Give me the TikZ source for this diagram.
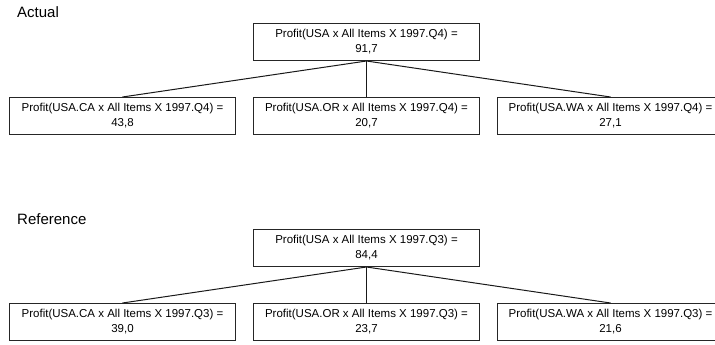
\documentclass[tikz,border=0pt]{standalone}
\usepackage{fontspec}
\setmainfont{Liberation Sans}
\begin{document}
\begin{tikzpicture}[x=1pt,y=-1pt,
  cell/.style={draw=black!85, line width=1pt, minimum width=226pt, minimum height=37pt,
    inner sep=0pt, align=center, font=\fontsize{11.5}{15}\selectfont, anchor=north west},
  link/.style={line width=1pt, draw=black!90},
  title/.style={anchor=base west, inner sep=0pt, font=\fontsize{15}{18}\selectfont}]
\useasboundingbox (0,0) rectangle (715,345);
\clip (0,0) rectangle (715,345);
% Actual
\node[title] (la) at (17,18) {Actual};
\node[cell] (a0) at (253,23) {Profit(USA x All Items X 1997.Q4) =\\91,7};
\node[cell] (a1) at (9,97) {Profit(USA.CA x All Items X 1997.Q4) =\\43,8};
\node[cell] (a2) at (253,97) {Profit(USA.OR x All Items X 1997.Q4) =\\20,7};
\node[cell] (a3) at (497,97) {Profit(USA.WA x All Items X 1997.Q4) =\\27,1};
\draw[link] (a0.south) -- (a1.north);
\draw[link] (a0.south) -- (a2.north);
\draw[link] (a0.south) -- (a3.north);
% Reference
\node[title] (lr) at (17,224) {Reference};
\node[cell] (r0) at (253,229) {Profit(USA x All Items X 1997.Q3) =\\84,4};
\node[cell] (r1) at (9,303) {Profit(USA.CA x All Items X 1997.Q3) =\\39,0};
\node[cell] (r2) at (253,303) {Profit(USA.OR x All Items X 1997.Q3) =\\23,7};
\node[cell] (r3) at (497,303) {Profit(USA.WA x All Items X 1997.Q3) =\\21,6};
\draw[link] (r0.south) -- (r1.north);
\draw[link] (r0.south) -- (r2.north);
\draw[link] (r0.south) -- (r3.north);
\end{tikzpicture}
\end{document}
